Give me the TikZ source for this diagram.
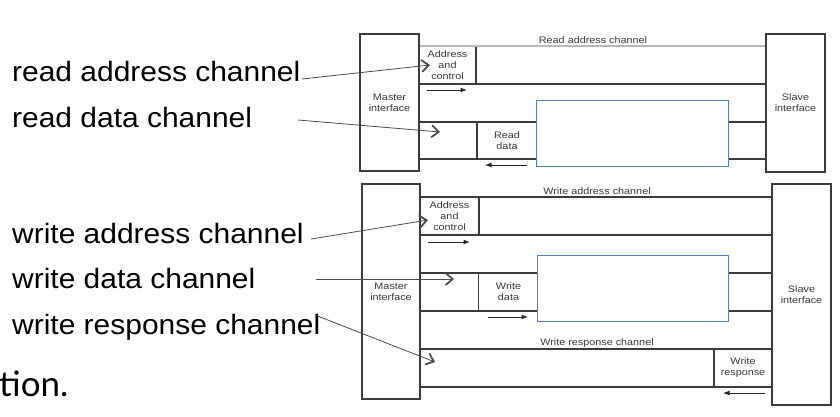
\documentclass[tikz,border=0pt]{standalone}
\usepackage{fontspec}
\setmainfont{Liberation Sans}
\newfontfamily\annfont[FakeStretch=1.07]{Liberation Sans}
\newfontfamily\lblfont[FakeStretch=1.15]{Liberation Sans}
\newfontfamily\slidefont{Lato}
\usetikzlibrary{arrows.meta}
\definecolor{boxline}{HTML}{3C3C3C}
\definecolor{blueline}{HTML}{4F81BD}
\definecolor{lbltext}{HTML}{3A3A3A}
\begin{document}
\begin{tikzpicture}[x=1pt,y=-1pt,
  iface/.style={draw=boxline, line width=1.2pt, fill=white, inner sep=0pt, align=center,
    font=\lblfont\fontsize{9.4}{11}\selectfont, text=lbltext},
  chan/.style={draw=boxline, line width=1.1pt},
  chanlight/.style={draw=black!28, line width=1.2pt},
  lbl/.style={font=\lblfont\fontsize{9.4}{11}\selectfont, text=lbltext, inner sep=0pt},
  bluebox/.style={draw=blueline, fill=white, line width=0.8pt, inner sep=0pt},
  sarrow/.style={draw=black!85, line width=1pt, -{Latex[length=6.5pt,width=5pt]}},
  ann/.style={draw=black!70, line width=0.8pt, -{Straight Barb[length=7pt,width=12pt,line width=1.8pt]}},
  anntext/.style={font=\annfont\fontsize{28}{32}\selectfont, text=black, inner sep=0pt, anchor=base west}
]
\useasboundingbox (0,0) rectangle (840,416);
\fill[white] (0,0) rectangle (840,416);

% ---------- read diagram ----------
\node[iface, minimum width=59pt, minimum height=137pt] (m1) at (389.5,102.5) {Master\\interface};
\node[iface, minimum width=59pt, minimum height=138pt] (s1) at (795.5,103) {Slave\\interface};
\coordinate (ra) at (0,46);
\coordinate (r84) at (0,84);
\coordinate (r122) at (0,122);
\coordinate (r159) at (0,159);
\node[iface, minimum width=57pt, minimum height=38pt] (ac1) at (447.5,65) {Address\\and\\control};
\draw[chanlight] (m1.east |- ra) -- (s1.west |- ra);
\node[lbl] (lra) at (593,40) {Read address channel};
\draw[chan] (m1.east |- r84) -- (s1.west |- r84);
\draw[chan] (m1.east |- r122) -- (s1.west |- r122);
\draw[chan] (m1.east |- r159) -- (s1.west |- r159);
\node[iface, minimum width=60pt, minimum height=37pt] (rd) at (507,140.5) {Read\\data};
\node[bluebox, minimum width=192pt, minimum height=66pt] (b1) at (632,133) {};
\coordinate (a1s) at (427,90);
\coordinate (a1e) at (467,90);
\draw[sarrow] (a1s) -- (a1e);
\coordinate (a2s) at (527,165);
\coordinate (a2e) at (485,165);
\draw[sarrow] (a2s) -- (a2e);

% ---------- write diagram ----------
\node[iface, minimum width=58pt, minimum height=215pt] (m2) at (391,291.5) {Master\\interface};
\node[iface, minimum width=59pt, minimum height=221pt] (s2) at (801.5,294.5) {Slave\\interface};
\coordinate (wa) at (0,197);
\coordinate (w235) at (0,235);
\coordinate (w273) at (0,273);
\coordinate (w311) at (0,311);
\coordinate (wr) at (0,349);
\coordinate (w387) at (0,387);
\draw[chan] (m2.east |- wa) -- (s2.west |- wa);
\node[lbl] (lwa) at (597,191) {Write address channel};
\node[iface, minimum width=59pt, minimum height=38pt] (ac2) at (449.5,216) {Address\\and\\control};
\draw[chan] (m2.east |- w235) -- (s2.west |- w235);
\draw[chan] (m2.east |- w273) -- (s2.west |- w273);
\draw[chan] (m2.east |- w311) -- (s2.west |- w311);
\node[iface, minimum width=60pt, minimum height=38pt] (wd) at (508.5,292) {Write\\data};
\node[bluebox, minimum width=191pt, minimum height=66pt] (b2) at (632.5,288) {};
\draw[chan] (m2.east |- wr) -- (s2.west |- wr);
\node[lbl] (lwr) at (597,343) {Write response channel};
\draw[chan] (m2.east |- w387) -- (s2.west |- w387);
\node[iface, minimum width=58pt, minimum height=38pt] (wresp) at (743,368) {Write\\response};
\coordinate (a3s) at (428,242);
\coordinate (a3e) at (470,242);
\draw[sarrow] (a3s) -- (a3e);
\coordinate (a4s) at (488,317);
\coordinate (a4e) at (528,317);
\draw[sarrow] (a4s) -- (a4e);
\coordinate (a5s) at (765,393);
\coordinate (a5e) at (723,393);
\draw[sarrow] (a5s) -- (a5e);

% ---------- annotation texts ----------
\node[anntext] (t1) at (12,81) {read address channel};
\node[anntext] (t2) at (12,127) {read data channel};
\node[anntext] (t3) at (12,243) {write address channel};
\node[anntext] (t4) at (12,288) {write data channel};
\node[anntext] (t5) at (12,334) {write response channel};
\node[font=\slidefont\fontsize{35}{38}\selectfont, inner sep=0pt, anchor=base west] (tion) at (-1,396) {tion.};

\coordinate (p1) at (302,79);  \coordinate (h1) at (430,65);
\coordinate (p2) at (298,120); \coordinate (h2) at (440,132);
\coordinate (p3) at (311,239); \coordinate (h3) at (428,220);
\coordinate (p4) at (316,279); \coordinate (h4) at (454,279);
\coordinate (p5) at (315,315); \coordinate (h5) at (435,362);
\draw[ann] (p1) -- (h1);
\draw[ann] (p2) -- (h2);
\draw[ann] (p3) -- (h3);
\draw[ann] (p4) -- (h4);
\draw[ann] (p5) -- (h5);
\end{tikzpicture}
\end{document}
